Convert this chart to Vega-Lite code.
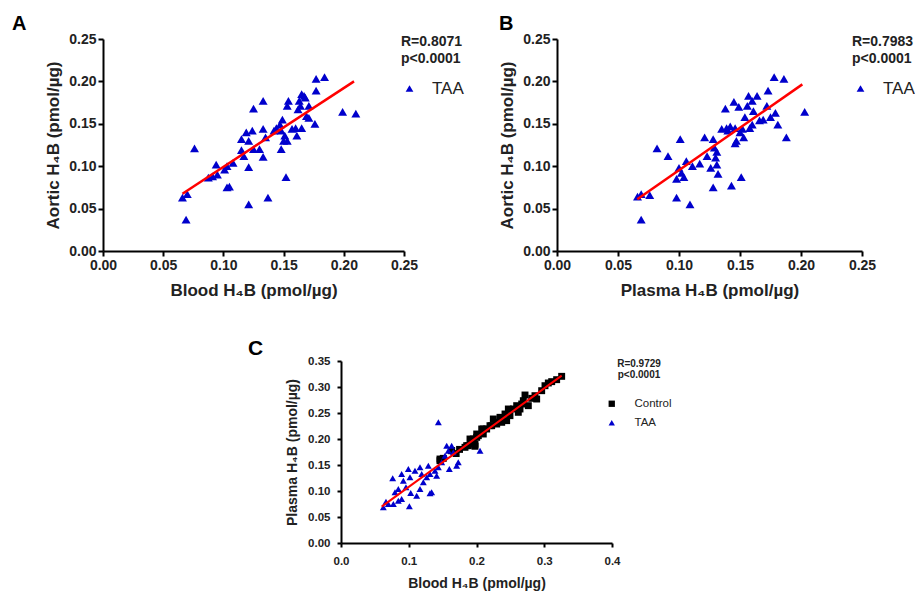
{
  "$schema": "https://vega.github.io/schema/vega-lite/v6.json",
  "padding": {"left": 12, "top": 14, "right": 0, "bottom": 0},
  "autosize": {"type": "pad"},
  "background": "white",
  "spacing": 40,
  "resolve": {"scale": {"color": "independent", "shape": "independent"}, "legend": {"color": "independent", "shape": "independent"}},
  "config": {
    "view": {"stroke": null},
    "font": "Liberation Sans",
    "axis": {
      "grid": false, "domainColor": "black", "domainWidth": 2, "tickColor": "black", "tickWidth": 2, "tickSize": 5,
      "labelColor": "#222", "labelFontWeight": "bold", "titleFontWeight": "bold", "titleColor": "#222",
      "labelFlush": false, "labelOverlap": false, "labelFont": "Liberation Sans", "titleFont": "Liberation Sans"
    },
    "legend": {
      "titleFont": "Liberation Sans", "labelFont": "Liberation Sans", "titleColor": "#222", "labelColor": "#222",
      "titleFontWeight": "bold"
    },
    "title": {"font": "Liberation Sans", "fontWeight": "bold", "color": "black", "anchor": "start", "frame": "group"}
  },
  "datasets": {
    "a_pts": [
      {"blood": 0.066, "aortic": 0.063, "group": "TAA"}, {"blood": 0.070, "aortic": 0.067, "group": "TAA"},
      {"blood": 0.069, "aortic": 0.037, "group": "TAA"}, {"blood": 0.076, "aortic": 0.121, "group": "TAA"},
      {"blood": 0.0875, "aortic": 0.0865, "group": "TAA"}, {"blood": 0.091, "aortic": 0.088, "group": "TAA"},
      {"blood": 0.094, "aortic": 0.102, "group": "TAA"}, {"blood": 0.095, "aortic": 0.090, "group": "TAA"},
      {"blood": 0.101, "aortic": 0.096, "group": "TAA"}, {"blood": 0.103, "aortic": 0.100, "group": "TAA"},
      {"blood": 0.108, "aortic": 0.104, "group": "TAA"}, {"blood": 0.103, "aortic": 0.075, "group": "TAA"},
      {"blood": 0.105, "aortic": 0.076, "group": "TAA"}, {"blood": 0.121, "aortic": 0.099, "group": "TAA"},
      {"blood": 0.121, "aortic": 0.055, "group": "TAA"}, {"blood": 0.125, "aortic": 0.168, "group": "TAA"},
      {"blood": 0.133, "aortic": 0.177, "group": "TAA"}, {"blood": 0.115, "aortic": 0.132, "group": "TAA"},
      {"blood": 0.119, "aortic": 0.140, "group": "TAA"}, {"blood": 0.124, "aortic": 0.142, "group": "TAA"},
      {"blood": 0.121, "aortic": 0.130, "group": "TAA"}, {"blood": 0.115, "aortic": 0.119, "group": "TAA"},
      {"blood": 0.117, "aortic": 0.112, "group": "TAA"}, {"blood": 0.125, "aortic": 0.120, "group": "TAA"},
      {"blood": 0.130, "aortic": 0.120, "group": "TAA"}, {"blood": 0.133, "aortic": 0.111, "group": "TAA"},
      {"blood": 0.133, "aortic": 0.144, "group": "TAA"}, {"blood": 0.135, "aortic": 0.134, "group": "TAA"},
      {"blood": 0.142, "aortic": 0.142, "group": "TAA"}, {"blood": 0.137, "aortic": 0.063, "group": "TAA"},
      {"blood": 0.147, "aortic": 0.149, "group": "TAA"}, {"blood": 0.148, "aortic": 0.142, "group": "TAA"},
      {"blood": 0.149, "aortic": 0.155, "group": "TAA"}, {"blood": 0.150, "aortic": 0.130, "group": "TAA"},
      {"blood": 0.153, "aortic": 0.130, "group": "TAA"}, {"blood": 0.148, "aortic": 0.120, "group": "TAA"},
      {"blood": 0.152, "aortic": 0.087, "group": "TAA"}, {"blood": 0.153, "aortic": 0.171, "group": "TAA"},
      {"blood": 0.154, "aortic": 0.177, "group": "TAA"}, {"blood": 0.157, "aortic": 0.144, "group": "TAA"},
      {"blood": 0.161, "aortic": 0.136, "group": "TAA"}, {"blood": 0.163, "aortic": 0.177, "group": "TAA"},
      {"blood": 0.165, "aortic": 0.185, "group": "TAA"}, {"blood": 0.167, "aortic": 0.183, "group": "TAA"},
      {"blood": 0.162, "aortic": 0.167, "group": "TAA"}, {"blood": 0.165, "aortic": 0.145, "group": "TAA"},
      {"blood": 0.169, "aortic": 0.159, "group": "TAA"}, {"blood": 0.171, "aortic": 0.171, "group": "TAA"},
      {"blood": 0.168, "aortic": 0.181, "group": "TAA"}, {"blood": 0.171, "aortic": 0.157, "group": "TAA"},
      {"blood": 0.176, "aortic": 0.150, "group": "TAA"}, {"blood": 0.177, "aortic": 0.189, "group": "TAA"},
      {"blood": 0.177, "aortic": 0.203, "group": "TAA"}, {"blood": 0.184, "aortic": 0.205, "group": "TAA"},
      {"blood": 0.199, "aortic": 0.164, "group": "TAA"}, {"blood": 0.210, "aortic": 0.162, "group": "TAA"},
      {"blood": 0.144, "aortic": 0.145, "group": "TAA"}, {"blood": 0.151, "aortic": 0.136, "group": "TAA"},
      {"blood": 0.160, "aortic": 0.145, "group": "TAA"}, {"blood": 0.164, "aortic": 0.171, "group": "TAA"}
    ],
    "a_fit": [{"blood": 0.066, "aortic": 0.0676}, {"blood": 0.2085, "aortic": 0.200}],
    "b_pts": [
      {"plasma": 0.066, "aortic": 0.064, "group": "TAA"}, {"plasma": 0.069, "aortic": 0.067, "group": "TAA"},
      {"plasma": 0.076, "aortic": 0.066, "group": "TAA"}, {"plasma": 0.069, "aortic": 0.037, "group": "TAA"},
      {"plasma": 0.082, "aortic": 0.121, "group": "TAA"}, {"plasma": 0.091, "aortic": 0.112, "group": "TAA"},
      {"plasma": 0.098, "aortic": 0.063, "group": "TAA"}, {"plasma": 0.101, "aortic": 0.132, "group": "TAA"},
      {"plasma": 0.109, "aortic": 0.055, "group": "TAA"}, {"plasma": 0.100, "aortic": 0.098, "group": "TAA"},
      {"plasma": 0.098, "aortic": 0.085, "group": "TAA"}, {"plasma": 0.102, "aortic": 0.092, "group": "TAA"},
      {"plasma": 0.104, "aortic": 0.087, "group": "TAA"}, {"plasma": 0.106, "aortic": 0.106, "group": "TAA"},
      {"plasma": 0.111, "aortic": 0.100, "group": "TAA"}, {"plasma": 0.117, "aortic": 0.103, "group": "TAA"},
      {"plasma": 0.121, "aortic": 0.134, "group": "TAA"}, {"plasma": 0.123, "aortic": 0.112, "group": "TAA"},
      {"plasma": 0.126, "aortic": 0.098, "group": "TAA"}, {"plasma": 0.128, "aortic": 0.132, "group": "TAA"},
      {"plasma": 0.129, "aortic": 0.122, "group": "TAA"}, {"plasma": 0.131, "aortic": 0.117, "group": "TAA"},
      {"plasma": 0.130, "aortic": 0.110, "group": "TAA"}, {"plasma": 0.131, "aortic": 0.102, "group": "TAA"},
      {"plasma": 0.132, "aortic": 0.091, "group": "TAA"}, {"plasma": 0.128, "aortic": 0.075, "group": "TAA"},
      {"plasma": 0.135, "aortic": 0.144, "group": "TAA"}, {"plasma": 0.138, "aortic": 0.168, "group": "TAA"},
      {"plasma": 0.139, "aortic": 0.145, "group": "TAA"}, {"plasma": 0.140, "aortic": 0.142, "group": "TAA"},
      {"plasma": 0.143, "aortic": 0.077, "group": "TAA"}, {"plasma": 0.145, "aortic": 0.176, "group": "TAA"},
      {"plasma": 0.146, "aortic": 0.145, "group": "TAA"}, {"plasma": 0.146, "aortic": 0.127, "group": "TAA"},
      {"plasma": 0.147, "aortic": 0.130, "group": "TAA"}, {"plasma": 0.149, "aortic": 0.170, "group": "TAA"},
      {"plasma": 0.151, "aortic": 0.087, "group": "TAA"}, {"plasma": 0.152, "aortic": 0.144, "group": "TAA"},
      {"plasma": 0.153, "aortic": 0.134, "group": "TAA"}, {"plasma": 0.156, "aortic": 0.171, "group": "TAA"},
      {"plasma": 0.157, "aortic": 0.183, "group": "TAA"}, {"plasma": 0.158, "aortic": 0.145, "group": "TAA"},
      {"plasma": 0.160, "aortic": 0.177, "group": "TAA"}, {"plasma": 0.161, "aortic": 0.165, "group": "TAA"},
      {"plasma": 0.160, "aortic": 0.149, "group": "TAA"}, {"plasma": 0.164, "aortic": 0.183, "group": "TAA"},
      {"plasma": 0.166, "aortic": 0.154, "group": "TAA"}, {"plasma": 0.169, "aortic": 0.155, "group": "TAA"},
      {"plasma": 0.172, "aortic": 0.171, "group": "TAA"}, {"plasma": 0.173, "aortic": 0.189, "group": "TAA"},
      {"plasma": 0.175, "aortic": 0.158, "group": "TAA"}, {"plasma": 0.179, "aortic": 0.163, "group": "TAA"},
      {"plasma": 0.181, "aortic": 0.149, "group": "TAA"}, {"plasma": 0.178, "aortic": 0.205, "group": "TAA"},
      {"plasma": 0.186, "aortic": 0.203, "group": "TAA"}, {"plasma": 0.188, "aortic": 0.134, "group": "TAA"},
      {"plasma": 0.203, "aortic": 0.164, "group": "TAA"}, {"plasma": 0.154, "aortic": 0.158, "group": "TAA"},
      {"plasma": 0.150, "aortic": 0.140, "group": "TAA"}, {"plasma": 0.142, "aortic": 0.147, "group": "TAA"}
    ],
    "b_fit": [{"plasma": 0.0658, "aortic": 0.061}, {"plasma": 0.2011, "aortic": 0.1965}],
    "c_pts": [
      {"blood": 0.1461, "plasma": 0.1583, "group": "Control"}, {"blood": 0.151, "plasma": 0.1628, "group": "Control"},
      {"blood": 0.1634, "plasma": 0.1776, "group": "Control"}, {"blood": 0.1855, "plasma": 0.1872, "group": "Control"},
      {"blood": 0.1904, "plasma": 0.200, "group": "Control"}, {"blood": 0.2003, "plasma": 0.2096, "group": "Control"},
      {"blood": 0.210, "plasma": 0.2192, "group": "Control"}, {"blood": 0.2199, "plasma": 0.2256, "group": "Control"},
      {"blood": 0.2298, "plasma": 0.2321, "group": "Control"}, {"blood": 0.3257, "plasma": 0.3205, "group": "Control"},
      {"blood": 0.3183, "plasma": 0.3141, "group": "Control"}, {"blood": 0.311, "plasma": 0.3103, "group": "Control"},
      {"blood": 0.306, "plasma": 0.3077, "group": "Control"}, {"blood": 0.2888, "plasma": 0.2769, "group": "Control"},
      {"blood": 0.2863, "plasma": 0.2833, "group": "Control"}, {"blood": 0.2815, "plasma": 0.2782, "group": "Control"},
      {"blood": 0.2716, "plasma": 0.2846, "group": "Control"}, {"blood": 0.2691, "plasma": 0.2737, "group": "Control"},
      {"blood": 0.2765, "plasma": 0.2641, "group": "Control"}, {"blood": 0.2667, "plasma": 0.2673, "group": "Control"},
      {"blood": 0.2642, "plasma": 0.2577, "group": "Control"}, {"blood": 0.2593, "plasma": 0.2641, "group": "Control"},
      {"blood": 0.2544, "plasma": 0.2577, "group": "Control"}, {"blood": 0.247, "plasma": 0.2577, "group": "Control"},
      {"blood": 0.2421, "plasma": 0.2481, "group": "Control"}, {"blood": 0.2494, "plasma": 0.2449, "group": "Control"},
      {"blood": 0.2445, "plasma": 0.2353, "group": "Control"}, {"blood": 0.2347, "plasma": 0.2417, "group": "Control"},
      {"blood": 0.2372, "plasma": 0.2321, "group": "Control"}, {"blood": 0.2298, "plasma": 0.2288, "group": "Control"},
      {"blood": 0.2248, "plasma": 0.2385, "group": "Control"}, {"blood": 0.2224, "plasma": 0.2256, "group": "Control"},
      {"blood": 0.215, "plasma": 0.2192, "group": "Control"}, {"blood": 0.2077, "plasma": 0.2192, "group": "Control"},
      {"blood": 0.210, "plasma": 0.2096, "group": "Control"}, {"blood": 0.2027, "plasma": 0.2064, "group": "Control"},
      {"blood": 0.1953, "plasma": 0.200, "group": "Control"}, {"blood": 0.1929, "plasma": 0.1904, "group": "Control"},
      {"blood": 0.1879, "plasma": 0.1872, "group": "Control"}, {"blood": 0.183, "plasma": 0.184, "group": "Control"},
      {"blood": 0.1978, "plasma": 0.186, "group": "Control"}, {"blood": 0.3011, "plasma": 0.3025, "group": "Control"},
      {"blood": 0.2962, "plasma": 0.2929, "group": "Control"}, {"blood": 0.2617, "plasma": 0.2513, "group": "Control"},
      {"blood": 0.1461, "plasma": 0.1615, "group": "Control"}, {"blood": 0.163, "plasma": 0.1776, "group": "Control"},
      {"blood": 0.1978, "plasma": 0.190, "group": "Control"}, {"blood": 0.2003, "plasma": 0.2032, "group": "Control"},
      {"blood": 0.175, "plasma": 0.180, "group": "Control"}, {"blood": 0.170, "plasma": 0.172, "group": "Control"},
      {"blood": 0.0625, "plasma": 0.0686, "group": "TAA"}, {"blood": 0.0699, "plasma": 0.075, "group": "TAA"},
      {"blood": 0.0664, "plasma": 0.0795, "group": "TAA"}, {"blood": 0.0773, "plasma": 0.075, "group": "TAA"},
      {"blood": 0.0846, "plasma": 0.0814, "group": "TAA"}, {"blood": 0.0895, "plasma": 0.0846, "group": "TAA"},
      {"blood": 0.0763, "plasma": 0.1244, "group": "TAA"}, {"blood": 0.0895, "plasma": 0.1327, "group": "TAA"},
      {"blood": 0.092, "plasma": 0.1199, "group": "TAA"}, {"blood": 0.0994, "plasma": 0.1423, "group": "TAA"},
      {"blood": 0.1018, "plasma": 0.1263, "group": "TAA"}, {"blood": 0.1009, "plasma": 0.0705, "group": "TAA"},
      {"blood": 0.1092, "plasma": 0.139, "group": "TAA"}, {"blood": 0.1166, "plasma": 0.1455, "group": "TAA"},
      {"blood": 0.1191, "plasma": 0.1327, "group": "TAA"}, {"blood": 0.1215, "plasma": 0.1167, "group": "TAA"},
      {"blood": 0.1265, "plasma": 0.1263, "group": "TAA"}, {"blood": 0.1314, "plasma": 0.1327, "group": "TAA"},
      {"blood": 0.1338, "plasma": 0.0974, "group": "TAA"}, {"blood": 0.1117, "plasma": 0.091, "group": "TAA"},
      {"blood": 0.1166, "plasma": 0.1038, "group": "TAA"}, {"blood": 0.1412, "plasma": 0.1295, "group": "TAA"},
      {"blood": 0.1437, "plasma": 0.1455, "group": "TAA"}, {"blood": 0.1486, "plasma": 0.1551, "group": "TAA"},
      {"blood": 0.1535, "plasma": 0.1679, "group": "TAA"}, {"blood": 0.1584, "plasma": 0.1776, "group": "TAA"},
      {"blood": 0.1633, "plasma": 0.1872, "group": "TAA"}, {"blood": 0.1658, "plasma": 0.1744, "group": "TAA"},
      {"blood": 0.1707, "plasma": 0.1487, "group": "TAA"}, {"blood": 0.1731, "plasma": 0.1551, "group": "TAA"},
      {"blood": 0.1599, "plasma": 0.1423, "group": "TAA"}, {"blood": 0.1437, "plasma": 0.2321, "group": "TAA"},
      {"blood": 0.2052, "plasma": 0.1776, "group": "TAA"}, {"blood": 0.0846, "plasma": 0.1038, "group": "TAA"},
      {"blood": 0.0797, "plasma": 0.0974, "group": "TAA"}, {"blood": 0.0959, "plasma": 0.1071, "group": "TAA"},
      {"blood": 0.1029, "plasma": 0.0962, "group": "TAA"}, {"blood": 0.1289, "plasma": 0.1487, "group": "TAA"},
      {"blood": 0.1387, "plasma": 0.139, "group": "TAA"}, {"blood": 0.156, "plasma": 0.1872, "group": "TAA"},
      {"blood": 0.1314, "plasma": 0.0955, "group": "TAA"}
    ],
    "c_fit": [{"blood": 0.060, "plasma": 0.070}, {"blood": 0.3257, "plasma": 0.3218}]
  },
  "vconcat": [
    {
      "hconcat": [
        {
          "width": 301, "height": 212,
          "title": {"text": "A", "dx": -91, "offset": -2, "fontSize": 20},
          "encoding": {
            "x": {"field": "blood", "type": "quantitative", "scale": {"domain": [0, 0.25], "nice": false},
              "axis": {"values": [0, 0.05, 0.1, 0.15, 0.2, 0.25], "format": ".2f", "title": "Blood H₄B (pmol/µg)", "labelFontSize": 14, "titleFontSize": 17, "labelPadding": 2, "titlePadding": 10}},
            "y": {"field": "aortic", "type": "quantitative", "scale": {"domain": [0, 0.25], "nice": false},
              "axis": {"values": [0, 0.05, 0.1, 0.15, 0.2, 0.25], "format": ".2f", "title": "Aortic H₄B (pmol/µg)", "labelFontSize": 14, "titleFontSize": 17, "labelPadding": 2, "titlePadding": 6}}
          },
          "layer": [
            {
              "data": {"name": "a_pts"},
              "mark": {"type": "point", "filled": true, "opacity": 1, "size": 80},
              "encoding": {
                "color": {"field": "group", "type": "nominal", "scale": {"domain": ["TAA"], "range": ["#0000cc"]},
                  "legend": {"title": ["R=0.8071", "p<0.0001"], "orient": "none", "legendX": 298, "legendY": -4, "titleFontSize": 14, "titleLineHeight": 17, "titlePadding": 14, "labelFontSize": 17, "symbolSize": 60, "labelOffset": 14}},
                "shape": {"field": "group", "type": "nominal", "scale": {"domain": ["TAA"], "range": ["triangle-up"]},
                  "legend": {"title": ["R=0.8071", "p<0.0001"], "orient": "none", "legendX": 298, "legendY": -4, "titleFontSize": 14, "titleLineHeight": 17, "titlePadding": 14, "labelFontSize": 17, "symbolSize": 60, "labelOffset": 14}}
              }
            },
            {
              "data": {"name": "a_fit"},
              "mark": {"type": "line", "color": "#ff0000", "strokeWidth": 2.5},
              "encoding": {}
            }
          ]
        },
        {
          "width": 305, "height": 212,
          "title": {"text": "B", "dx": -58, "offset": -2, "fontSize": 20},
          "encoding": {
            "x": {"field": "plasma", "type": "quantitative", "scale": {"domain": [0, 0.25], "nice": false},
              "axis": {"values": [0, 0.05, 0.1, 0.15, 0.2, 0.25], "format": ".2f", "title": "Plasma H₄B (pmol/µg)", "labelFontSize": 14, "titleFontSize": 17, "labelPadding": 2, "titlePadding": 10}},
            "y": {"field": "aortic", "type": "quantitative", "scale": {"domain": [0, 0.25], "nice": false},
              "axis": {"values": [0, 0.05, 0.1, 0.15, 0.2, 0.25], "format": ".2f", "title": "Aortic H₄B (pmol/µg)", "labelFontSize": 14, "titleFontSize": 17, "labelPadding": 2, "titlePadding": 6}}
          },
          "layer": [
            {
              "data": {"name": "b_pts"},
              "mark": {"type": "point", "filled": true, "opacity": 1, "size": 80},
              "encoding": {
                "color": {"field": "group", "type": "nominal", "scale": {"domain": ["TAA"], "range": ["#0000cc"]},
                  "legend": {"title": ["R=0.7983", "p<0.0001"], "orient": "none", "legendX": 295, "legendY": -4, "titleFontSize": 14, "titleLineHeight": 17, "titlePadding": 14, "labelFontSize": 17, "symbolSize": 60, "labelOffset": 14}},
                "shape": {"field": "group", "type": "nominal", "scale": {"domain": ["TAA"], "range": ["triangle-up"]},
                  "legend": {"title": ["R=0.7983", "p<0.0001"], "orient": "none", "legendX": 295, "legendY": -4, "titleFontSize": 14, "titleLineHeight": 17, "titlePadding": 14, "labelFontSize": 17, "symbolSize": 60, "labelOffset": 14}}
              }
            },
            {
              "data": {"name": "b_fit"},
              "mark": {"type": "line", "color": "#ff0000", "strokeWidth": 2.5},
              "encoding": {}
            }
          ]
        }
      ],
      "spacing": 153,
      "bounds": "flush",
      "resolve": {"scale": {"color": "independent", "shape": "independent"}, "legend": {"color": "independent", "shape": "independent"}}
    },
    {
      "hconcat": [
        {"data": {"values": []}, "mark": "point", "width": 228, "height": 10},
        {
          "width": 271, "height": 182,
          "title": {"text": "C", "dx": -93, "offset": -4, "fontSize": 21},
          "encoding": {
            "x": {"field": "blood", "type": "quantitative", "scale": {"domain": [0, 0.4], "nice": false},
              "axis": {"values": [0, 0.1, 0.2, 0.3, 0.4], "format": ".1f", "title": "Blood H₄B (pmol/µg)", "labelFontSize": 11.5, "titleFontSize": 14, "tickSize": 4, "labelPadding": 8, "titlePadding": 10}},
            "y": {"field": "plasma", "type": "quantitative", "scale": {"domain": [0, 0.35], "nice": false},
              "axis": {"values": [0, 0.05, 0.1, 0.15, 0.2, 0.25, 0.3, 0.35], "format": ".2f", "title": "Plasma H₄B (pmol/µg)", "labelFontSize": 11.5, "titleFontSize": 14, "tickSize": 4, "labelPadding": 7, "titlePadding": 8}}
          },
          "layer": [
            {
              "data": {"name": "c_pts"},
              "mark": {"type": "point", "filled": true, "opacity": 1, "size": 48},
              "encoding": {
                "color": {"field": "group", "type": "nominal", "scale": {"domain": ["Control", "TAA"], "range": ["black", "#0000cc"]},
                  "legend": {"title": ["R=0.9729", "p<0.0001"], "orient": "none", "legendX": 265, "legendY": -2, "titleFontSize": 10, "titleLineHeight": 11, "titlePadding": 18, "titleAnchor": "middle", "labelFontSize": 11.5, "symbolSize": 40, "labelOffset": 17, "rowPadding": 6}},
                "shape": {"field": "group", "type": "nominal", "scale": {"domain": ["Control", "TAA"], "range": ["square", "triangle-up"]},
                  "legend": {"title": ["R=0.9729", "p<0.0001"], "orient": "none", "legendX": 265, "legendY": -2, "titleFontSize": 10, "titleLineHeight": 11, "titlePadding": 18, "titleAnchor": "middle", "labelFontSize": 11.5, "symbolSize": 40, "labelOffset": 17, "rowPadding": 6}}
              }
            },
            {
              "data": {"name": "c_fit"},
              "mark": {"type": "line", "color": "#ff0000", "strokeWidth": 2},
              "encoding": {}
            }
          ]
        }
      ],
      "spacing": 10,
      "bounds": "flush",
      "resolve": {"scale": {"color": "independent", "shape": "independent"}, "legend": {"color": "independent", "shape": "independent"}}
    }
  ]
}
